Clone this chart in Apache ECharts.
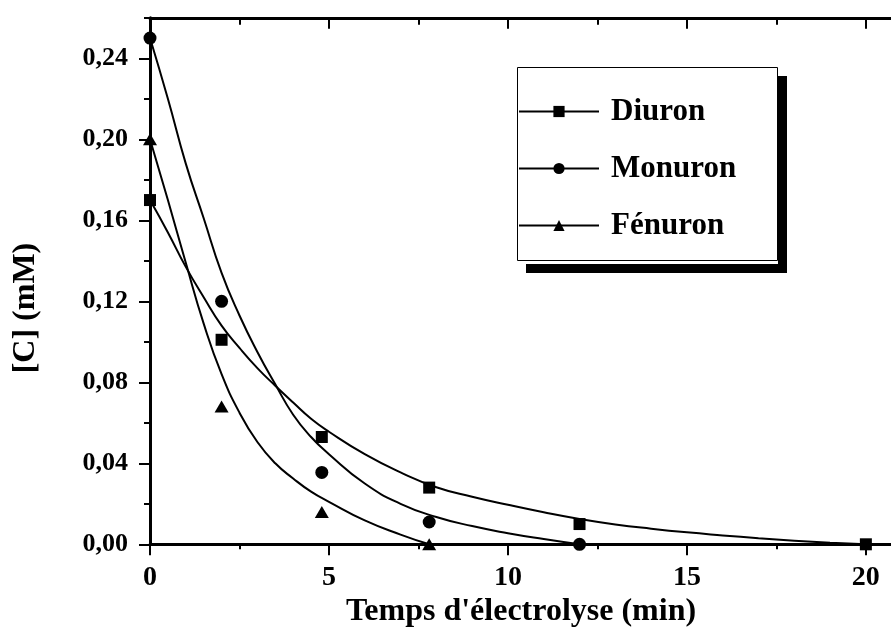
<!DOCTYPE html>
<html><head><meta charset="utf-8">
<script src="https://cdn.jsdelivr.net/npm/echarts@6/dist/echarts.min.js"></script>
<style>html,body{margin:0;padding:0;background:#fff}#c{width:891px;height:628px}</style>
</head><body><div id="c"></div>
<script>
// Measured points
const diuronT  = [0, 2, 4.8, 7.8, 12, 20];
const diuronC  = [0.170, 0.101, 0.053, 0.028, 0.010, 0];
const monuronT = [0, 2, 4.8, 7.8, 12];
const monuronC = [0.250, 0.120, 0.0355, 0.011, 0];
const fenuronT = [0, 2, 4.8, 7.8];
const fenuronC = [0.200, 0.068, 0.016, 0];

// Fitted curves
const diuronFitT  = [0, 0.5, 1, 1.5, 2, 2.5, 3, 3.5, 4, 4.5, 5, 6, 7, 8, 9, 10, 11, 12, 13, 14, 15, 16, 17, 18, 19, 20];
const diuronFitC  = [0.170, 0.154, 0.137, 0.122, 0.108, 0.097, 0.087, 0.0783, 0.070, 0.062, 0.0556, 0.0445, 0.0355, 0.0282, 0.0235, 0.0195, 0.0158, 0.0125, 0.0098, 0.0077, 0.0059, 0.0044, 0.0030, 0.0018, 0.0008, 0];
const monuronFitT = [0, 0.5, 1, 1.5, 2, 2.5, 3, 3.5, 4, 4.5, 5, 6, 7, 8, 9, 10, 11, 12];
const monuronFitC = [0.250, 0.220, 0.188, 0.161, 0.134, 0.113, 0.095, 0.079, 0.064, 0.053, 0.0445, 0.030, 0.020, 0.0135, 0.0090, 0.0055, 0.0026, 0];
const fenuronFitT = [0, 0.5, 1, 1.5, 2, 2.5, 3, 3.5, 4, 4.5, 5, 6, 7, 7.8];
const fenuronFitC = [0.200, 0.170, 0.139, 0.109, 0.084, 0.065, 0.0505, 0.040, 0.0325, 0.026, 0.021, 0.0118, 0.0048, 0];

const seriesNames = ['Diuron', 'Monuron', 'Fénuron'];
const xTitle = "Temps d'électrolyse (min)";
const yTitle = '[C] (mM)';

const XMAX = 20.73, YMAX = 0.26;
const FONT = 'Liberation Serif';
const zip = (a, b) => a.map((v, i) => [v, b[i]]);

const chart = echarts.init(document.getElementById('c'), null, {renderer: 'canvas'});

function fit(name, t, c) {
  return {type: 'line', name: name + ' fit', data: zip(t, c), smooth: 0.5,
    showSymbol: false, symbol: 'none', clip: false, silent: true, z: 2,
    lineStyle: {color: '#000', width: 2}};
}
function pts(name, t, c, symbol, size) {
  return {type: 'line', name: name, data: zip(t, c), symbol: symbol, symbolSize: size,
    showSymbol: true, showAllSymbol: true, clip: false, silent: true, z: 3,
    itemStyle: {color: '#000'}, lineStyle: {opacity: 0, width: 2, color: '#000'}};
}

const baseX = {type: 'value', min: 0, max: XMAX, splitLine: {show: false}, gridIndex: 0};
const baseY = {type: 'value', min: 0, max: YMAX, splitLine: {show: false}, gridIndex: 0};

chart.setOption({
  animation: false,
  backgroundColor: '#fff',
  textStyle: {fontFamily: FONT, fontWeight: 'bold', color: '#000'},
  grid: {left: 150, top: 17.8, width: 742, height: 526.5, containLabel: false, outerBoundsMode: 'none'},
  legend: {
    data: seriesNames,
    orient: 'vertical',
    left: 517, top: 67,
    padding: [29, 7, 23, 1],
    itemWidth: 80, itemHeight: 14, itemGap: 26,
    backgroundColor: '#fff', borderWidth: 0,
    shadowColor: '#000', shadowBlur: 0, shadowOffsetX: 9, shadowOffsetY: 9,
    lineStyle: {color: '#000', width: 2, opacity: 1},
    itemStyle: {color: '#000'},
    textStyle: {fontFamily: FONT, fontWeight: 'bold', fontSize: 31, color: '#000',
      lineHeight: 30, width: 160, padding: [0, 0, 0, 7]},
    selectedMode: false
  },
  graphic: [{
    type: 'rect', z: 100, silent: true,
    shape: {x: 517.5, y: 67.5, width: 260, height: 193},
    style: {fill: 'none', stroke: '#000', lineWidth: 1}
  }],
  xAxis: [
    Object.assign({}, baseX, {position: 'bottom', interval: 5,
      axisLine: {show: true, onZero: false, lineStyle: {color: '#000', width: 3}},
      axisTick: {show: true, inside: false, length: 11, lineStyle: {color: '#000', width: 2}},
      axisLabel: {show: true, margin: 19, fontSize: 28, fontFamily: FONT, fontWeight: 'bold', color: '#000', showMaxLabel: false},
      name: xTitle, nameLocation: 'middle', nameGap: 45,
      nameTextStyle: {fontSize: 32, fontFamily: FONT, fontWeight: 'bold', color: '#000'}}),
    Object.assign({}, baseX, {position: 'bottom', interval: 2.5,
      axisLine: {show: false, onZero: false},
      axisTick: {show: true, inside: false, length: 5, lineStyle: {color: '#000', width: 2}},
      axisLabel: {show: false}}),
    Object.assign({}, baseX, {position: 'top', interval: 5,
      axisLine: {show: true, onZero: false, lineStyle: {color: '#000', width: 3}},
      axisTick: {show: true, inside: true, length: 11, lineStyle: {color: '#000', width: 2}},
      axisLabel: {show: false}}),
    Object.assign({}, baseX, {position: 'top', interval: 2.5,
      axisLine: {show: false, onZero: false},
      axisTick: {show: true, inside: true, length: 7, lineStyle: {color: '#000', width: 2}},
      axisLabel: {show: false}})
  ],
  yAxis: [
    Object.assign({}, baseY, {position: 'left', interval: 0.04,
      axisLine: {show: true, onZero: false, lineStyle: {color: '#000', width: 3}},
      axisTick: {show: true, inside: false, length: 11, lineStyle: {color: '#000', width: 2}},
      axisLabel: {show: true, margin: 22, fontSize: 26, fontFamily: FONT, fontWeight: 'bold', color: '#000',
        showMaxLabel: false, formatter: v => v.toFixed(2).replace('.', ',')},
      name: yTitle, nameLocation: 'middle', nameGap: 108, nameRotate: 90,
      nameTextStyle: {fontSize: 32, fontFamily: FONT, fontWeight: 'bold', color: '#000', padding: [0, 54, 0, 0]}}),
    Object.assign({}, baseY, {position: 'left', interval: 0.02,
      axisLine: {show: false, onZero: false},
      axisTick: {show: true, inside: false, length: 6, lineStyle: {color: '#000', width: 2}},
      axisLabel: {show: false}})
  ],
  series: [
    fit('Diuron', diuronFitT, diuronFitC),
    fit('Monuron', monuronFitT, monuronFitC),
    fit('Fénuron', fenuronFitT, fenuronFitC),
    pts('Diuron', diuronT, diuronC, 'rect', 12),
    pts('Monuron', monuronT, monuronC, 'circle', 13),
    pts('Fénuron', fenuronT, fenuronC, 'triangle', [14, 12])
  ]
});
</script>
</body></html>
